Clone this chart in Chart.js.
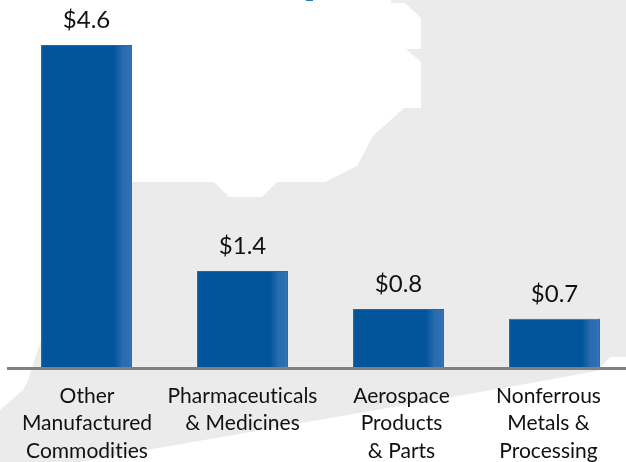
<!DOCTYPE html>
<html lang="en">
<head>
    <meta charset="UTF-8">
    <title>Exports by commodity</title>
    <script src="https://cdn.jsdelivr.net/npm/chart.js"></script>
    <style>
        html, body { margin: 0; padding: 0; width: 626px; height: 462px; overflow: hidden; background: #fff; }
        #map { position: absolute; left: 0; top: 0; }
        #wrap { position: absolute; left: 0; top: 0; width: 626px; height: 462px; overflow: hidden; }
        #valueChart { position: absolute; left: 0; top: 0; }
    </style>
</head>
<body>
<!-- grey map shape behind the chart -->
<svg id="map" width="626" height="462">
    <polygon fill="#ebebeb" points="391,0 626,0 626,357 610,357 597,371 520,385 313,421 147,450 80,462 0,462 0,410 23,390 28,380 41,340 41,182 214,182 229,197 262,197 277,182 325,182 357,166 373,136 404,108 421,108 421,62 406,49 421,49 421,18 405,3 391,3"/>
    <rect x="306" y="0" width="7" height="1" fill="#2a78b8"/>
</svg>
<div id="wrap"><canvas id="valueChart" width="640" height="462"></canvas></div>
<script>
    const categories = [
        ['Other', 'Manufactured', 'Commodities'],
        ['Pharmaceuticals', '& Medicines'],
        ['Aerospace', 'Products', '& Parts'],
        ['Nonferrous', 'Metals &', 'Processing']
    ];
    const values = [4.6, 1.38, 0.84, 0.7];

    const fontName = 'Lato, "Open Sans", sans-serif';
    // the labels do not sit quite centred under their bars in the original
    const labelShift = [0.5, 0, 3, -6];

    // dark blue with a lighter band on the right of every bar
    function barFill(context) {
        const chart = context.chart;
        if (!chart.chartArea) return '#00559a';
        const mid = chart.scales.x.getPixelForValue(context.dataIndex);
        const g = chart.ctx.createLinearGradient(mid - 45, 0, mid + 45, 0);
        g.addColorStop(0, '#02559a');
        g.addColorStop(0.81, '#02559a');
        g.addColorStop(0.9, '#2a6cb0');
        g.addColorStop(1, '#2f70b4');
        return g;
    }

    const textLabels = {
        id: 'textLabels',
        afterDatasetsDraw(chart) {
            const ctx = chart.ctx;
            const x = chart.scales.x;
            ctx.save();
            ctx.fillStyle = '#111';
            ctx.textAlign = 'center';
            ctx.textBaseline = 'middle';
            ctx.letterSpacing = '0.01px'; // stops the "ti" ligature in Lato
            ctx.font = '24px ' + fontName;
            chart.getDatasetMeta(0).data.forEach((bar, i) => {
                ctx.fillText('$' + values[i].toFixed(1), bar.x, bar.y - 25);
            });
            ctx.font = '21px ' + fontName;
            categories.forEach((lines, i) => {
                lines.forEach((line, n) => {
                    ctx.fillText(line, x.getPixelForValue(i) + labelShift[i], chart.chartArea.bottom + 28 + n * 27.5);
                });
            });
            ctx.restore();
        }
    };

    new Chart(document.getElementById('valueChart').getContext('2d'), {
        type: 'bar',
        data: {
            labels: categories,
            datasets: [{
                data: values,
                backgroundColor: barFill,
                borderColor: 'rgba(35,70,105,0.85)',
                borderWidth: 1,
                categoryPercentage: 1,
                barPercentage: 0.583
            }]
        },
        options: {
            responsive: false,
            animation: false,
            layout: { padding: { left: 8.5, right: 7.5 } },
            plugins: { legend: { display: false }, tooltip: { enabled: false } },
            scales: {
                x: {
                    grid: { display: false },
                    border: { color: '#808080', width: 3, z: 1 },
                    ticks: { display: false },
                    afterFit(scale) { scale.height = 94; }
                },
                y: { display: false, min: 0, max: 5.24 }
            }
        },
        plugins: [textLabels]
    });
</script>
</body>
</html>
